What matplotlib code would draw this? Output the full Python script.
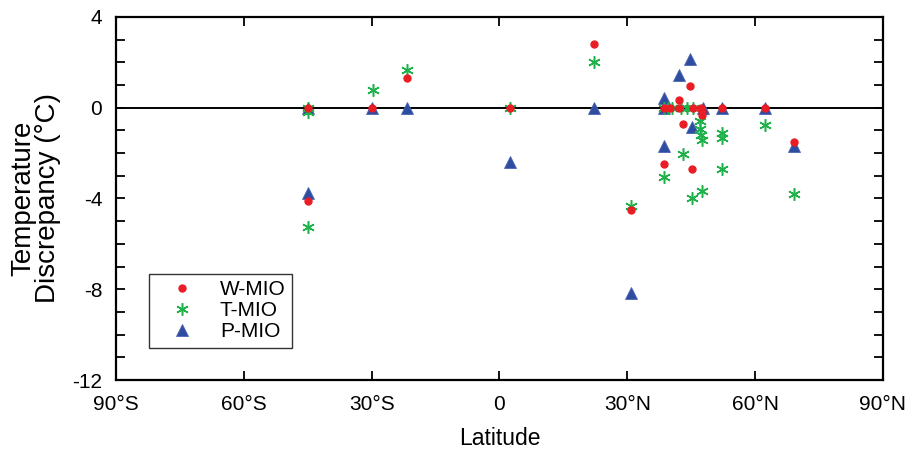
import matplotlib
matplotlib.use("Agg")
import matplotlib.pyplot as plt
from matplotlib.ticker import MultipleLocator

plt.rcParams['font.family'] = ['Liberation Sans', 'DejaVu Sans']
plt.rcParams['axes.unicode_minus'] = False

# latitude (deg, negative = south) and temperature discrepancy (degC)
w_lat = [-45, -45, -30, -21.6, 2.4, 22.1, 30.9, 38.6, 38.6, 40.0, 42.1, 42.1,
         43.1, 44.7, 45.2, 45.5, 47.2, 47.5, 47.5, 52.2, 62.2, 69.2]
w_val = [0, -4.1, 0, 1.3, 0, 2.8, -4.5, 0, -2.5, 0, 0.35, 0,
         -0.7, 0.95, -2.7, 0, 0, -0.15, -0.3, 0, 0, -1.5]

t_lat = [-45, -45, -45, -29.8, -21.6, 2.4, 22.1, 30.9, 38.6, 38.6, 39.5, 40.5,
         42.5, 43.1, 44.0, 45.1, 45.5, 47.1, 47.1, 47.3, 47.5, 47.5, 52.2, 52.2,
         52.2, 62.2, 69.2]
t_val = [0, -0.2, -5.25, 0.8, 1.65, 0, 2.0, -4.35, 0, -3.05, 0, 0,
         0, -2.05, 0, -4.0, 0, -0.6, -0.95, -1.2, -1.4, -3.65, -1.1, -1.35,
         -2.7, -0.75, -3.8]

p_lat = [-45, -45, -30, -21.6, 2.4, 22.1, 30.9, 38.6, 38.6, 38.6, 42.1, 44.7,
         45.1, 47.8, 52.2, 62.2, 69.2]
p_val = [0, -3.75, 0, 0, -2.4, 0, -8.15, 0.45, -1.7, 0, 1.45, 2.15,
         -0.85, 0, 0, 0, -1.7]

x_ticks = [-90, -60, -30, 0, 30, 60, 90]
x_labels = ['90°S', '60°S', '30°S', '0', '30°N', '60°N', '90°N']
y_ticks = [4, 0, -4, -8, -12]

fig = plt.figure(figsize=(9.1, 4.58), dpi=100)
ax = fig.add_axes([0.1275, 0.1703, 0.8428, 0.7926])

ax.axhline(0, color='black', lw=1.4, zorder=1)

ax.plot(p_lat, p_val, ls='none', marker='^', ms=8.5, color='#2e4da0',
        mec='#4a66b4', mew=0.6, label='P-MIO', zorder=3)
ax.plot(t_lat, t_val, ls='none', marker=(6, 2, 0), ms=9, color='#1fb14a',
        mew=1.1, label='T-MIO', zorder=4)
ax.plot(w_lat, w_val, ls='none', marker='o', ms=5, color='#ea1c24',
        mec='#ea1c24', label='W-MIO', zorder=5)

ax.set_xlim(-90, 90)
ax.set_ylim(-12, 4)
ax.set_xticks(x_ticks)
ax.set_xticklabels(x_labels)
ax.set_yticks(y_ticks)
ax.yaxis.set_minor_locator(MultipleLocator(1))

ax.tick_params(which='both', direction='in', top=True, right=True,
               length=6.5, width=1.3, labelsize=15)
ax.tick_params(axis='x', pad=11)
ax.tick_params(axis='y', pad=10)
for s in ax.spines.values():
    s.set_linewidth(1.6)

ax.set_xlabel('Latitude', fontsize=16.5, labelpad=9)
ax.set_ylabel('Temperature\nDiscrepancy (°C)', fontsize=20, labelpad=8,
              linespacing=0.92)

handles, labels = ax.get_legend_handles_labels()
order = [2, 1, 0]
leg = ax.legend([handles[i] for i in order], [labels[i] for i in order],
                loc='upper left', bbox_to_anchor=(0.043, 0.292),
                borderaxespad=0, fontsize=15, frameon=True, fancybox=False,
                handlelength=2.6, handletextpad=0.5, labelspacing=0.1,
                borderpad=0.3, edgecolor='black')
leg.get_frame().set_linewidth(1.0)

fig.savefig('out.png', dpi=100)
